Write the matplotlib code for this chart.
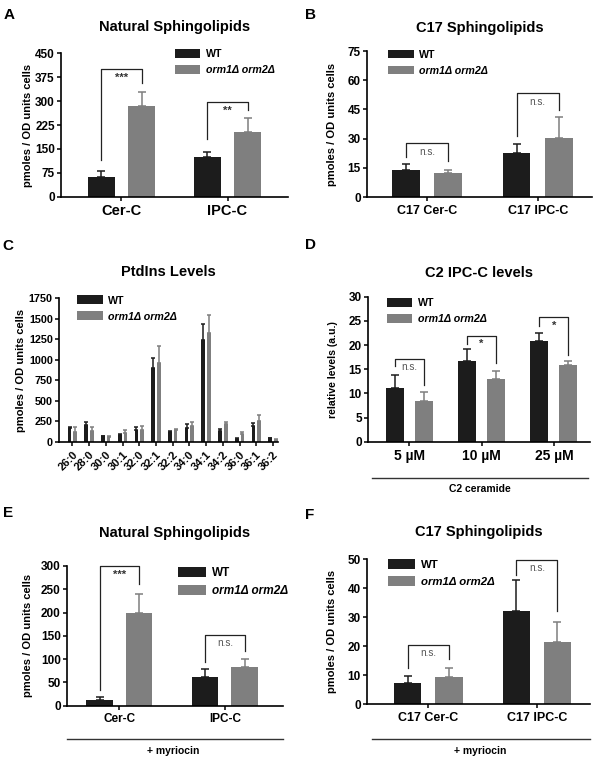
import numpy as np
import matplotlib
matplotlib.use("Agg")
import matplotlib.pyplot as plt
from matplotlib.lines import Line2D

plt.rcParams['font.family'] = ['Liberation Sans', 'DejaVu Sans']

WT_COLOR = "#1c1c1c"
ORM_COLOR = "#7f7f7f"
W, H = 598, 761

# ---- data ----
a_cats = ["Cer-C", "IPC-C"]
a_wt = [61, 126]
a_wt_sd = [21, 15]
a_orm = [286, 202]
a_orm_sd = [44, 46]
a_sig = [(400, 115, 356, "***"), (296, 181, 272, "**")]

b_cats = ["C17 Cer-C", "C17 IPC-C"]
b_wt = [13.7, 22.5]
b_wt_sd = [3.2, 4.8]
b_orm = [12.3, 30.2]
b_orm_sd = [1.7, 11.1]
b_sig = [(27.7, 20.5, 18.3, "n.s."), (53.3, 31.1, 44.8, "n.s.")]

c_cats = ["26:0", "28:0", "30:0", "30:1", "32:0", "32:1", "32:2",
          "34:0", "34:1", "34:2", "36:0", "36:1", "36:2"]
c_wt = [171, 204, 69, 85, 142, 903, 118, 171, 1241, 126, 37, 191, 41]
c_wt_sd = [8, 40, 5, 9, 41, 115, 8, 45, 196, 33, 4, 41, 3]
c_orm = [118, 130, 61, 102, 142, 965, 142, 191, 1323, 212, 94, 252, 24]
c_orm_sd = [57, 53, 4, 40, 53, 203, 13, 45, 224, 32, 28, 74, 4]

d_cats = ["5 µM", "10 µM", "25 µM"]
d_wt = [11.2, 16.8, 20.8]
d_wt_sd = [2.5, 2.3, 1.6]
d_orm = [8.5, 12.9, 15.9]
d_orm_sd = [1.8, 1.7, 0.9]
d_sig = [(17.2, 15.7, 11.7, "n.s."), (21.9, 20.3, 16.3, "*"), (25.7, 23.9, 17.9, "*")]

e_cats = ["Cer-C", "IPC-C"]
e_wt = [12, 62]
e_wt_sd = [6, 17]
e_orm = [200, 84]
e_orm_sd = [40, 17]
e_sig = [(300, 34, 261, "***"), (152, 94.5, 118, "n.s.")]

f_cats = ["C17 Cer-C", "C17 IPC-C"]
f_wt = [7.5, 32.3]
f_wt_sd = [2.4, 10.6]
f_orm = [9.5, 21.5]
f_orm_sd = [3.0, 6.9]
f_sig = [(20.5, 12.4, 15.6, "n.s."), (49.8, 44.6, 32.2, "n.s.")]


def px_axes(fig, x0, x1, ytop, ybot):
    return fig.add_axes([x0 / W, 1 - ybot / H, (x1 - x0) / W, (ybot - ytop) / H])


def draw_panel(ax, cats, wt, wt_sd, orm, orm_sd, ymax, ystep, xlim,
               offset=0.19, width=0.25, capsize=3, xfs=10.5, yfs=8.5):
    x = np.arange(len(cats))
    n = len(cats)
    ax.bar(x - offset, wt, width, color=WT_COLOR, label="WT",
           yerr=[np.zeros(n), wt_sd],
           error_kw=dict(ecolor=WT_COLOR, capsize=capsize, elinewidth=1.1, capthick=1.1))
    ax.bar(x + offset, orm, width, color=ORM_COLOR, label="orm1Δ orm2Δ",
           yerr=[np.zeros(n), orm_sd],
           error_kw=dict(ecolor=ORM_COLOR, capsize=capsize, elinewidth=1.1, capthick=1.1))
    ax.set_xlim(*xlim)
    ax.set_ylim(0, ymax)
    ax.set_yticks(np.arange(0, ymax + ystep / 2, ystep))
    ax.set_xticks(x)
    ax.set_xticklabels(cats, fontsize=xfs, fontweight="bold")
    for s in ("top", "right"):
        ax.spines[s].set_visible(False)
    for s in ("left", "bottom"):
        ax.spines[s].set_linewidth(1.2)
    ax.tick_params(axis="y", direction="out", length=3, width=1.1, pad=1.5,
                   labelsize=yfs)
    ax.tick_params(axis="x", direction="out", length=3, width=1.1, pad=2.5)
    for t in ax.get_yticklabels():
        t.set_fontweight("bold")
    return x


def add_sig(ax, x, sig, offset=0.19):
    for i, (ytop, yl, yr, lab) in enumerate(sig):
        x1, x2 = x[i] - offset, x[i] + offset
        ax.plot([x1, x1, x2, x2], [yl, ytop, ytop, yr], color="#222222",
                lw=0.9, clip_on=False)
        if lab == "n.s.":
            ax.annotate(lab, (x[i], ytop), xytext=(0, -2.5), textcoords="offset points",
                        ha="center", va="top", fontsize=7.2, color="#555555")
        else:
            ax.annotate(lab, (x[i], ytop), xytext=(0, -2.5), textcoords="offset points",
                        ha="center", va="top", fontsize=8, fontweight="bold",
                        color="#333333")


def add_legend(ax, anchor, fs=7.7):
    leg = ax.legend(loc="upper left", bbox_to_anchor=anchor, frameon=False,
                    fontsize=fs, handlelength=2.4, handleheight=0.9,
                    handletextpad=0.5, labelspacing=0.55, borderpad=0,
                    borderaxespad=0, prop=dict(weight="bold", size=fs))
    leg.get_texts()[1].set_style("italic")
    return leg


fig = plt.figure(figsize=(W / 100, H / 100), dpi=100)

# A
ax = px_axes(fig, 61, 288, 53.3, 196.7)
x = draw_panel(ax, a_cats, a_wt, a_wt_sd, a_orm, a_orm_sd, 450, 75, (-0.57, 1.57))
add_sig(ax, x, a_sig)
add_legend(ax, (0.50, 1.03))
ax.set_title("Natural Sphingolipids", fontsize=10.5, fontweight="bold", pad=16)
ax.set_ylabel("pmoles / OD units cells", fontsize=8, fontweight="bold")
ax.yaxis.set_label_coords(-0.123, 0.5)

# B
ax = px_axes(fig, 367, 592, 51, 197)
x = draw_panel(ax, b_cats, b_wt, b_wt_sd, b_orm, b_orm_sd, 75, 15, (-0.54, 1.49),
               xfs=9)
add_sig(ax, x, b_sig)
add_legend(ax, (0.093, 1.01))
ax.set_title("C17 Sphingolipids", fontsize=10.5, fontweight="bold", pad=14)
ax.set_ylabel("pmoles / OD units cells", fontsize=8, fontweight="bold")
ax.yaxis.set_label_coords(-0.135, 0.5)

# C
ax = px_axes(fig, 59, 278, 298.3, 441.7)
x = draw_panel(ax, c_cats, c_wt, c_wt_sd, c_orm, c_orm_sd, 1750, 250, (-0.8, 12.3),
               offset=0.17, width=0.22, capsize=1.2, xfs=8, yfs=7.8)
for t in ax.get_xticklabels():
    t.set_rotation(45)
    t.set_ha("right")
    t.set_rotation_mode("anchor")
add_legend(ax, (0.082, 1.02))
ax.set_title("PtdIns Levels", fontsize=10.5, fontweight="bold", pad=16)
ax.set_ylabel("pmoles / OD units cells", fontsize=8, fontweight="bold")
ax.yaxis.set_label_coords(-0.15, 0.5)

# D
ax = px_axes(fig, 368, 590, 296.7, 441.7)
x = draw_panel(ax, d_cats, d_wt, d_wt_sd, d_orm, d_orm_sd, 30, 5, (-0.57, 2.5),
               offset=0.2, xfs=10)
add_sig(ax, x, d_sig, offset=0.2)
add_legend(ax, (0.084, 0.99))
ax.set_title("C2 IPC-C levels", fontsize=10.5, fontweight="bold", pad=14)
ax.set_ylabel("relative levels (a.u.)", fontsize=7.6, fontweight="bold")
ax.yaxis.set_label_coords(-0.135, 0.5)

# E
ax = px_axes(fig, 67, 283, 566, 705.7)
x = draw_panel(ax, e_cats, e_wt, e_wt_sd, e_orm, e_orm_sd, 300, 50, (-0.495, 1.55),
               offset=0.186, xfs=8.5)
add_sig(ax, x, e_sig, offset=0.186)
add_legend(ax, (0.514, 0.995), fs=8.5)
ax.set_title("Natural Sphingolipids", fontsize=10.5, fontweight="bold", pad=21)
ax.set_ylabel("pmoles / OD units cells", fontsize=8, fontweight="bold")
ax.yaxis.set_label_coords(-0.156, 0.5)

# F
ax = px_axes(fig, 367, 590, 559.3, 704.3)
x = draw_panel(ax, f_cats, f_wt, f_wt_sd, f_orm, f_orm_sd, 50, 10, (-0.566, 1.49),
               offset=0.19, xfs=9)
add_sig(ax, x, f_sig)
add_legend(ax, (0.094, 1.0), fs=8.2)
ax.set_title("C17 Sphingolipids", fontsize=10.5, fontweight="bold", pad=17)
ax.set_ylabel("pmoles / OD units cells", fontsize=8, fontweight="bold")
ax.yaxis.set_label_coords(-0.136, 0.5)

# panel letters
for lab, px, py in [("A", 9, 15), ("B", 310, 15), ("C", 8, 246),
                    ("D", 310, 245), ("E", 8, 513), ("F", 310, 515)]:
    fig.text(px / W, 1 - py / H, lab, fontsize=11, fontweight="bold",
             ha="center", va="center")

# treatment lines
for x0, x1, yl, xt, yt, txt in [(372, 588, 478, 480, 489, "C2 ceramide"),
                                (67, 283, 739, 173, 751, "+ myriocin"),
                                (372, 590, 739, 480, 751, "+ myriocin")]:
    fig.add_artist(Line2D([x0 / W, x1 / W], [1 - yl / H, 1 - yl / H],
                          color="#333333", lw=1.0))
    fig.text(xt / W, 1 - yt / H, txt, fontsize=7.5, fontweight="bold",
             ha="center", va="center")

fig.savefig("out.png", dpi=100, facecolor="white")
